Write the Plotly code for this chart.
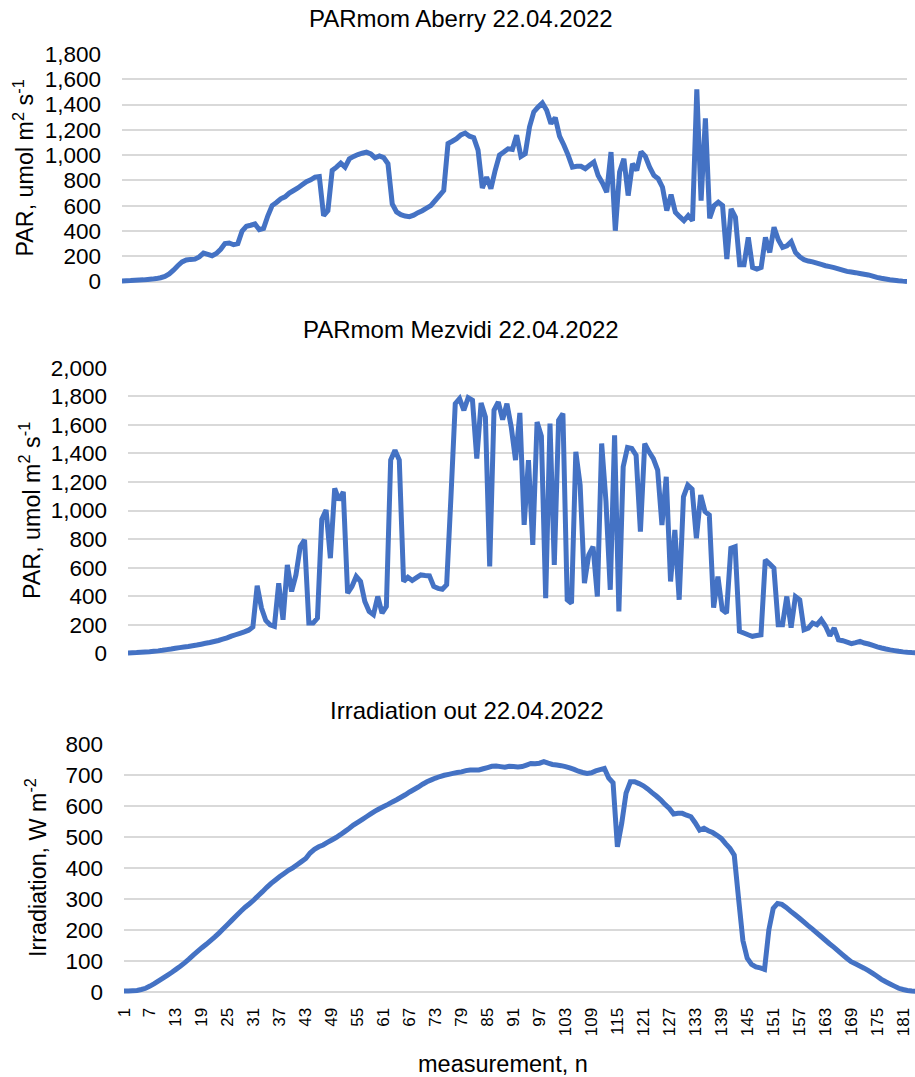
import plotly.graph_objects as go

measurement = list(range(1, 185))

par_aberry = [
    5, 6, 7, 9, 11, 13, 16, 19, 23, 30,
    40, 60, 90, 125, 155, 170, 175, 177, 195, 225,
    215, 204, 222, 255, 300, 305, 291, 300, 400, 437,
    445, 455, 410, 420, 520, 601, 625, 654, 670, 700,
    720, 740, 765, 790, 805, 826, 831, 521, 561, 879,
    905, 937, 905, 971, 990, 1005, 1015, 1024, 1010, 979,
    993, 980, 932, 614, 550, 529, 518, 513, 525, 545,
    560, 580, 600, 640, 680, 720, 1091, 1110, 1130, 1160,
    1175, 1150, 1138, 1040, 740, 826, 735, 880, 1000, 1024,
    1050, 1045, 1157, 990, 1011, 1223, 1342, 1380, 1413, 1355,
    1249, 1297, 1150, 1080, 1000, 905, 911, 911, 892, 920,
    945, 839, 780, 707, 1024, 402, 866, 971, 680, 932,
    879, 1027, 990, 905, 839, 813, 746, 561, 688, 548,
    513, 482, 521, 482, 1520, 640, 1290, 500, 600, 627,
    601, 177, 574, 508, 132, 132, 349, 111, 98, 111,
    349, 230, 429, 330, 270, 283, 315, 230, 195, 172,
    162, 155, 145, 135, 125, 118, 110, 100, 90, 80,
    75, 70, 64, 58, 52, 43, 33, 26, 20, 14,
    10, 6, 3, 1,
]

par_mezvidi = [
    3, 4, 5, 7, 9, 11, 14, 17, 21, 26,
    30, 35, 40, 44, 48, 53, 58, 64, 70, 76,
    83, 90, 99, 108, 120, 130, 140, 150, 162, 185,
    473, 317, 230, 200, 189, 491, 235, 619, 433, 549,
    747, 794, 212, 212, 247, 938, 1003, 666, 1155, 1073,
    1131, 421, 468, 538, 503, 363, 293, 270, 398, 282,
    328, 1353, 1422, 1353, 503, 533, 510, 530, 549, 545,
    542, 468, 455, 449, 480, 1096, 1748, 1783, 1702, 1790,
    1772, 1364, 1753, 1655, 608, 1702, 1760, 1637, 1748, 1585,
    1353, 1683, 899, 1353, 759, 1620, 1520, 386, 1609, 619,
    1632, 1678, 375, 351, 1411, 1178, 491, 689, 747, 398,
    1469, 1062, 445, 1527, 293, 1306, 1441, 1434, 1387, 852,
    1469, 1411, 1364, 1283, 899, 1236, 503, 864, 375, 1096,
    1178, 1150, 805, 1108, 992, 968, 320, 538, 305, 282,
    736, 747, 154, 142, 130, 119, 125, 130, 654, 626,
    596, 200, 200, 398, 180, 398, 375, 165, 177, 212,
    200, 235, 189, 123, 177, 95, 88, 78, 68, 75,
    84, 72, 65, 55, 45, 37, 30, 24, 19, 14,
    10, 7, 5, 4,
]

irradiation = [
    2, 2, 3, 4, 7, 11, 18, 26, 35, 44,
    53, 62, 72, 82, 93, 105, 118, 130, 142, 153,
    165, 177, 190, 204, 218, 232, 246, 260, 273, 284,
    296, 310, 323, 337, 350, 361, 372, 382, 392, 400,
    410, 420, 430, 448, 460, 468, 474, 482, 490, 498,
    507, 517, 527, 538, 547, 556, 565, 574, 583, 591,
    598, 605, 613, 620, 628, 636, 645, 653, 661, 670,
    678, 684, 690, 695, 699, 702, 705, 708, 710, 714,
    716, 716, 716, 720, 724, 728, 729, 727, 725, 728,
    727, 726, 727, 732, 737, 736, 738, 743, 738, 734,
    732, 730, 727, 723, 718, 712, 708, 705, 707, 713,
    717, 721, 690, 675, 468, 544, 641, 678, 678, 672,
    665, 655, 643, 632, 620, 605, 592, 574, 576, 576,
    570, 565, 545, 522, 528, 520, 514, 505, 495, 478,
    463, 441, 300, 165, 108, 88, 80, 77, 72, 200,
    269, 285, 282, 272, 260, 249, 238, 226, 214, 203,
    191, 179, 167, 155, 144, 132, 120, 108, 97, 90,
    83, 76, 68, 59, 50, 40, 32, 25, 18, 11,
    7, 4, 2, 1,
]

titles = ["PARmom Aberry 22.04.2022", "PARmom Mezvidi 22.04.2022", "Irradiation out 22.04.2022"]
ytitles = ["PAR, umol m<sup>2</sup> s<sup>-1</sup>", "PAR, umol m<sup>2</sup> s<sup>-1</sup>",
           "Irradiation, W m<sup>-2</sup>"]
xtitle = "measurement, n"

W, H = 915, 1077
LINE = "#4472C4"
GRID = "#d9d9d9"
FONT = "Arial, Liberation Sans, sans-serif"

fig = go.Figure()
series = [par_aberry, par_mezvidi, irradiation]
for i, ys in enumerate(series):
    sfx = "" if i == 0 else str(i + 1)
    fig.add_trace(go.Scatter(x=measurement, y=ys, mode="lines",
                             line=dict(color=LINE, width=5, simplify=False),
                             xaxis="x" + sfx, yaxis="y" + sfx,
                             showlegend=False, hoverinfo="skip"))

def py(p):
    return 1 - p / H

xcfg = [
    dict(domain=[122 / W, 907 / W], range=[1, 184]),
    dict(domain=[128 / W, 1.0], range=[1, 1 + (915 - 128) / 4.306]),
    dict(domain=[124 / W, 1.0], range=[1, 1 + (915 - 124) / 4.328]),
]
ycfg = [
    dict(domain=[py(285.3), py(54)], range=[-30, 1800], dtick=200),
    dict(domain=[py(657.6), py(367.7)], range=[-30, 2000], dtick=200),
    dict(domain=[py(995.4), py(744)], range=[-12, 800], dtick=100),
]

layout = dict(width=W, height=H,
              margin=dict(l=0, r=0, t=0, b=0, pad=0, autoexpand=False),
              paper_bgcolor="white", plot_bgcolor="white",
              font=dict(family=FONT, color="#000000"))
for i in range(3):
    sfx = "" if i == 0 else str(i + 1)
    xa = dict(domain=xcfg[i]["domain"], range=xcfg[i]["range"], anchor="y" + sfx,
              showgrid=False, zeroline=False, showline=False, ticks="",
              tick0=1, dtick=6, fixedrange=True, automargin=False)
    if i < 2:
        xa["showticklabels"] = False
    else:
        xa.update(showticklabels=True, tickangle=-90,
                  tickfont=dict(size=17, family=FONT, color="#000000"),
                  ticklabelstandoff=8)
    ya = dict(domain=ycfg[i]["domain"], range=ycfg[i]["range"], anchor="x" + sfx,
              tick0=0, dtick=ycfg[i]["dtick"], tickformat=",d",
              showgrid=True, gridcolor=GRID, gridwidth=2,
              zeroline=False, showline=False, ticks="",
              tickfont=dict(size=22.5, family=FONT, color="#000000"),
              ticklabelstandoff=20, fixedrange=True, automargin=False)
    layout["xaxis" + sfx] = xa
    layout["yaxis" + sfx] = ya

ann = []
title_pos = [(461, 18.5), (461, 329), (467, 710)]
for t, (x, y) in zip(titles, title_pos):
    ann.append(dict(text=t, x=x / W, y=py(y), xref="paper", yref="paper",
                    xanchor="center", yanchor="middle", showarrow=False,
                    font=dict(size=24, family=FONT, color="#000000")))
ytitle_pos = [(24, 168.5), (30, 511), (36, 868)]
for t, (x, y) in zip(ytitles, ytitle_pos):
    ann.append(dict(text=t, x=x / W, y=py(y), xref="paper", yref="paper",
                    xanchor="center", yanchor="middle", showarrow=False, textangle=-90,
                    font=dict(size=23.3, family=FONT, color="#000000")))
ann.append(dict(text=xtitle, x=503 / W, y=py(1064), xref="paper", yref="paper",
                xanchor="center", yanchor="middle", showarrow=False,
                font=dict(size=23.5, family=FONT, color="#000000")))
layout["annotations"] = ann

fig.update_layout(**layout)
fig.write_html("out.html")
